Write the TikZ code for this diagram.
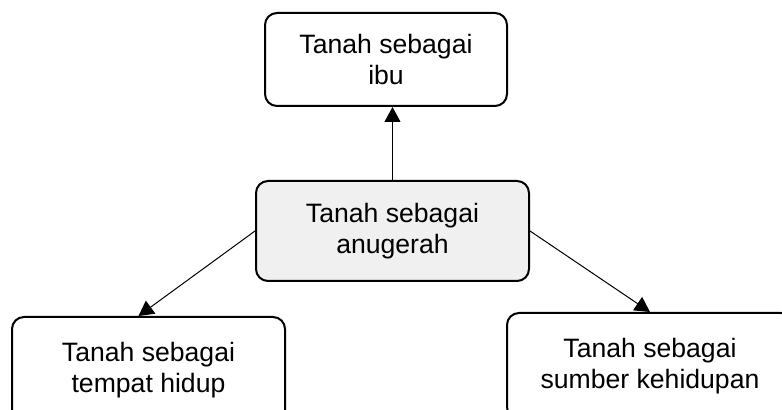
\documentclass[tikz,border=0pt]{standalone}
\usepackage{fontspec}
\setmainfont{Liberation Sans}
\usepackage{xcolor}
\usetikzlibrary{arrows.meta,positioning}
\definecolor{boxgray}{HTML}{F0F0F0}

\begin{document}
\begin{tikzpicture}[
    x=0.5pt, y=-0.5pt,
    box/.style={rectangle, draw, rounded corners=6pt, line width=1pt, align=center, inner sep=0pt, font=\fontsize{13.3}{15.5}\selectfont},
    arrow/.style={-{Triangle[length=7.5pt,width=8pt]}, line width=0.5pt}
]
    \clip (0,0) rectangle (782,410);
    \node[box, minimum width=121pt, minimum height=46.5pt] (ibu) at (386,59.5) {Tanah sebagai\\ibu};
    \node[box, fill=boxgray, minimum width=136.5pt, minimum height=50pt] (anugerah) at (392.5,231) {Tanah sebagai\\anugerah};
    \node[box, minimum width=136.5pt, minimum height=53pt] (tempat) at (148.5,370) {Tanah sebagai\\tempat hidup};
    \node[box, minimum width=143pt, minimum height=53pt] (sumber) at (650,366) {Tanah sebagai\\sumber kehidupan};

    \draw[arrow] (anugerah.north) -- (anugerah.north |- ibu.south);
    \draw[arrow] (anugerah.west) -- ([xshift=-5pt]tempat.north);
    \draw[arrow] (anugerah.east) -- (sumber.north);
\end{tikzpicture}
\end{document}
